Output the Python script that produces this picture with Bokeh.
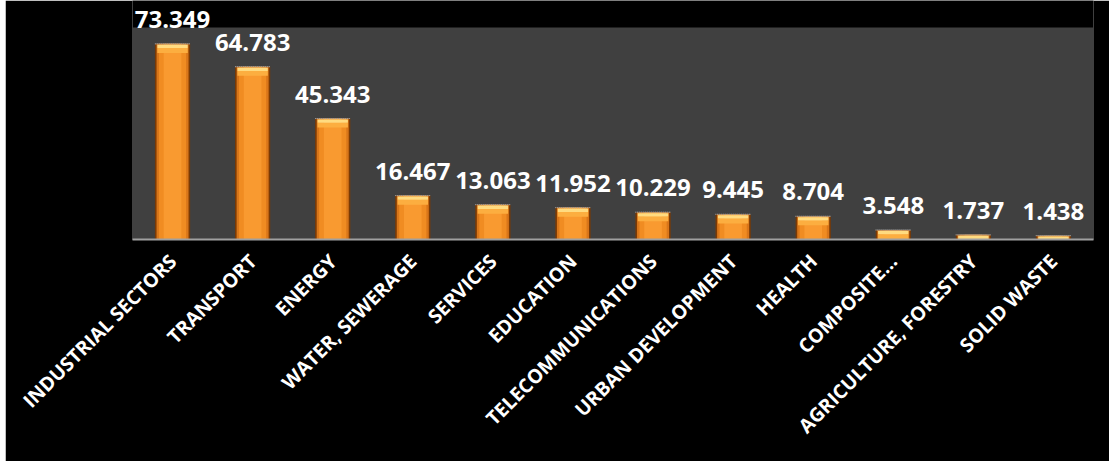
import numpy as np
from math import pi
from bokeh.plotting import figure
from bokeh.models import ColumnDataSource, LabelSet, FactorRange, Range1d, Spacer, BoxAnnotation
from bokeh.layouts import row
from bokeh.core.properties import value
from bokeh.embed import file_html
from bokeh.resources import INLINE

categories = ["INDUSTRIAL SECTORS", "TRANSPORT", "ENERGY", "WATER, SEWERAGE", "SERVICES",
              "EDUCATION", "TELECOMMUNICATIONS", "URBAN DEVELOPMENT", "HEALTH",
              "COMPOSITE…", "AGRICULTURE, FORESTRY", "SOLID WASTE"]
values = [73.349, 64.783, 45.343, 16.467, 13.063, 11.952, 10.229, 9.445, 8.704, 3.548, 1.737, 1.438]
value_labels = ["73.349", "64.783", "45.343", "16.467", "13.063", "11.952", "10.229",
                "9.445", "8.704", "3.548", "1.737", "1.438"]
plot_area_top = 79.5

vals = np.array(values)
src = ColumnDataSource(dict(
    cat=categories, val=values, lab=value_labels,
    hl1_top=np.maximum(vals - 0.35, 0), hl1_bot=np.maximum(vals - 1.6, 0),
    hl2_bot=np.maximum(vals - 3.4, 0),
))

p = figure(width=1104, height=461, x_range=FactorRange(*categories, range_padding=0),
           y_range=Range1d(0, 89.6), output_backend="svg", toolbar_location=None,
           min_border_left=127, min_border_right=16, min_border_top=0, min_border_bottom=222)
p.background_fill_color = "#000000"
p.border_fill_color = "#000000"
p.outline_line_color = None
p.xgrid.visible = False
p.ygrid.visible = False
p.yaxis.visible = False

p.add_layout(BoxAnnotation(bottom=0, top=plot_area_top, fill_color="#404040", fill_alpha=1,
                           line_color=None, level="underlay"))

# bar body layers (simulated horizontal gradient)
p.vbar(x="cat", top="val", width=0.44, source=src, fill_color="#7a3a05", line_color=None)
p.vbar(x="cat", top="val", width=0.40, source=src, fill_color="#d9761a", line_color=None)
p.vbar(x="cat", top="val", width=0.34, source=src, fill_color="#f08c22", line_color=None)
p.vbar(x="cat", top="val", width=0.22, source=src, fill_color="#f99a30", line_color=None)
# top highlight
p.vbar(x="cat", top="hl1_bot", bottom="hl2_bot", width=0.38, source=src, fill_color="#fcae40", line_color=None)
p.vbar(x="cat", top="hl1_top", bottom="hl1_bot", width=0.38, source=src, fill_color="#ffdb80", line_color=None)
# dotted cap line
p.vbar(x="cat", top="val", bottom="val", width=0.44, source=src, fill_color=None,
       line_color="#9a9a9a", line_dash="1 1", line_width=1)

labels = LabelSet(x="cat", y="val", text="lab", source=src, y_offset=16,
                  text_align="center", text_baseline="alphabetic",
                  text_color="white", text_font=value("Open Sans"), text_font_style="bold",
                  text_font_size="24px")
p.add_layout(labels)

ax = p.xaxis[0]
ax.axis_line_color = "#a0a0a0"
ax.axis_line_width = 2
ax.major_tick_line_color = None
ax.minor_tick_line_color = None
ax.major_label_orientation = pi / 4
ax.major_label_text_color = "white"
ax.major_label_text_font = "Open Sans"
ax.major_label_text_font_style = "bold"
ax.major_label_text_font_size = "19.5px"
ax.major_label_standoff = 12

layout = row(Spacer(width=5, height=461), p)
open("out.html", "w").write(file_html(layout, INLINE))
